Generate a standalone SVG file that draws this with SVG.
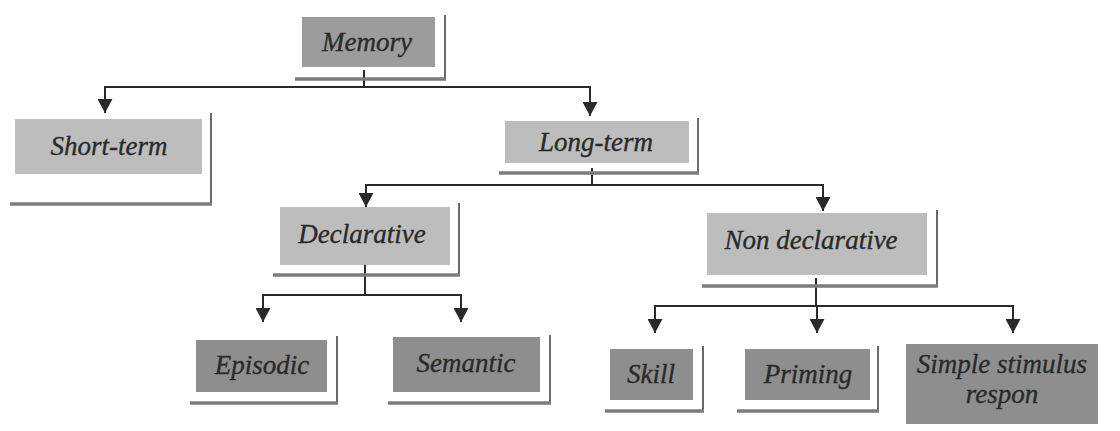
<svg xmlns="http://www.w3.org/2000/svg" width="1120" height="431" viewBox="0 0 1120 431">
  <defs>
    <!-- solid triangular head, drawn along +x so orient="auto" turns it with the line -->
    <marker id="arrow" viewBox="0 0 14 15" refX="14" refY="7.5" markerWidth="14" markerHeight="15" markerUnits="userSpaceOnUse" orient="auto">
      <path d="M0,0 L14,7.5 L0,15 Z" fill="#2a2a2a"/>
    </marker>
  </defs>
  <style>
    .box-light { fill: #bdbdbd; }
    .box-mid { fill: #9c9c9c; }
    .box-dark { fill: #8e8e8e; }
    .edge-r { stroke: #6a6a6a; stroke-width: 2; fill: none; }
    .edge-b { stroke: #7c7c7c; stroke-width: 3.5; fill: none; }
    .label { font-family: "Liberation Serif", "Times New Roman", serif; font-style: italic; font-size: 27px; fill: #2a2a2a; stroke: #2a2a2a; stroke-width: 0.35; text-anchor: middle; }
    .wire { stroke: #2a2a2a; stroke-width: 2; fill: none; }
    .tip { marker-end: url(#arrow); }
  </style>
  <rect width="1120" height="431" fill="#ffffff"/>

  <!-- connectors -->
  <g id="connectors">
    <!-- Memory -> Short-term / Long-term -->
    <line class="wire" x1="364" y1="70" x2="364" y2="87"/>
    <line class="wire" x1="105" y1="87" x2="591" y2="87"/>
    <line class="wire tip" x1="105" y1="86" x2="105" y2="113"/>
    <line class="wire tip" x1="590" y1="86" x2="590" y2="116"/>
    <!-- Long-term -> Declarative / Non declarative -->
    <line class="wire" x1="592" y1="168" x2="592" y2="185"/>
    <line class="wire" x1="366" y1="185" x2="824" y2="185"/>
    <line class="wire tip" x1="366" y1="184" x2="366" y2="207"/>
    <line class="wire tip" x1="823" y1="184" x2="823" y2="211"/>
    <!-- Declarative -> Episodic / Semantic -->
    <line class="wire" x1="365" y1="265" x2="365" y2="295"/>
    <line class="wire" x1="263" y1="295" x2="461" y2="295"/>
    <line class="wire tip" x1="263" y1="294" x2="263" y2="322"/>
    <line class="wire tip" x1="461" y1="294" x2="461" y2="322"/>
    <!-- Non declarative -> Skill / Priming / Simple stimulus -->
    <line class="wire" x1="816" y1="278" x2="816" y2="306"/>
    <line class="wire" x1="655" y1="306" x2="1014" y2="306"/>
    <line class="wire tip" x1="655" y1="305" x2="655" y2="333"/>
    <line class="wire tip" x1="817" y1="305" x2="817" y2="333"/>
    <line class="wire tip" x1="1013" y1="305" x2="1013" y2="333"/>
  </g>

  <g id="memory">
    <rect class="box-mid" x="302" y="17" width="133" height="50"/>
    <line class="edge-r" x1="445" y1="15" x2="445" y2="80"/>
    <line class="edge-b" x1="295" y1="79" x2="446" y2="79"/>
    <text class="label" x="367" y="51">Memory</text>
  </g>

  <g id="short-term">
    <rect class="box-light" x="15" y="119" width="187" height="55"/>
    <line class="edge-r" x1="211" y1="113" x2="211" y2="205"/>
    <line class="edge-b" x1="10" y1="204" x2="212" y2="204"/>
    <text class="label" x="109" y="155">Short-term</text>
  </g>

  <g id="long-term">
    <rect class="box-light" x="505" y="121" width="184" height="42"/>
    <line class="edge-r" x1="698" y1="118" x2="698" y2="174"/>
    <line class="edge-b" x1="499" y1="173" x2="699" y2="173"/>
    <text class="label" x="596" y="151">Long-term</text>
  </g>

  <g id="declarative">
    <rect class="box-light" x="280" y="207" width="170" height="58"/>
    <line class="edge-r" x1="459" y1="203" x2="459" y2="276"/>
    <line class="edge-b" x1="273" y1="275" x2="460" y2="275"/>
    <text class="label" x="362" y="243">Declarative</text>
  </g>

  <g id="non-declarative">
    <rect class="box-light" x="707" y="213" width="220" height="62"/>
    <line class="edge-r" x1="937" y1="210" x2="937" y2="287"/>
    <line class="edge-b" x1="702" y1="286" x2="938" y2="286"/>
    <text class="label" x="811" y="249">Non declarative</text>
  </g>

  <g id="episodic">
    <rect class="box-dark" x="196" y="340" width="131" height="52"/>
    <line class="edge-r" x1="337" y1="336" x2="337" y2="404"/>
    <line class="edge-b" x1="190" y1="403" x2="338" y2="403"/>
    <text class="label" x="262" y="374">Episodic</text>
  </g>

  <g id="semantic">
    <rect class="box-dark" x="393" y="337" width="147" height="55"/>
    <line class="edge-r" x1="550" y1="335" x2="550" y2="404"/>
    <line class="edge-b" x1="388" y1="403" x2="551" y2="403"/>
    <text class="label" x="466" y="372">Semantic</text>
  </g>

  <g id="skill">
    <rect class="box-dark" x="610" y="349" width="83" height="51"/>
    <line class="edge-r" x1="703" y1="346" x2="703" y2="412"/>
    <line class="edge-b" x1="605" y1="411" x2="704" y2="411"/>
    <text class="label" x="651" y="383">Skill</text>
  </g>

  <g id="priming">
    <rect class="box-dark" x="745" y="349" width="125" height="51"/>
    <line class="edge-r" x1="878" y1="346" x2="878" y2="412"/>
    <line class="edge-b" x1="737" y1="411" x2="879" y2="411"/>
    <text class="label" x="808" y="383">Priming</text>
  </g>

  <g id="simple-stimulus">
    <rect class="box-dark" x="906" y="344" width="192" height="80"/>
    <text class="label" x="1002" y="373">Simple stimulus</text>
    <text class="label" x="1002" y="403">respon</text>
  </g>
</svg>
